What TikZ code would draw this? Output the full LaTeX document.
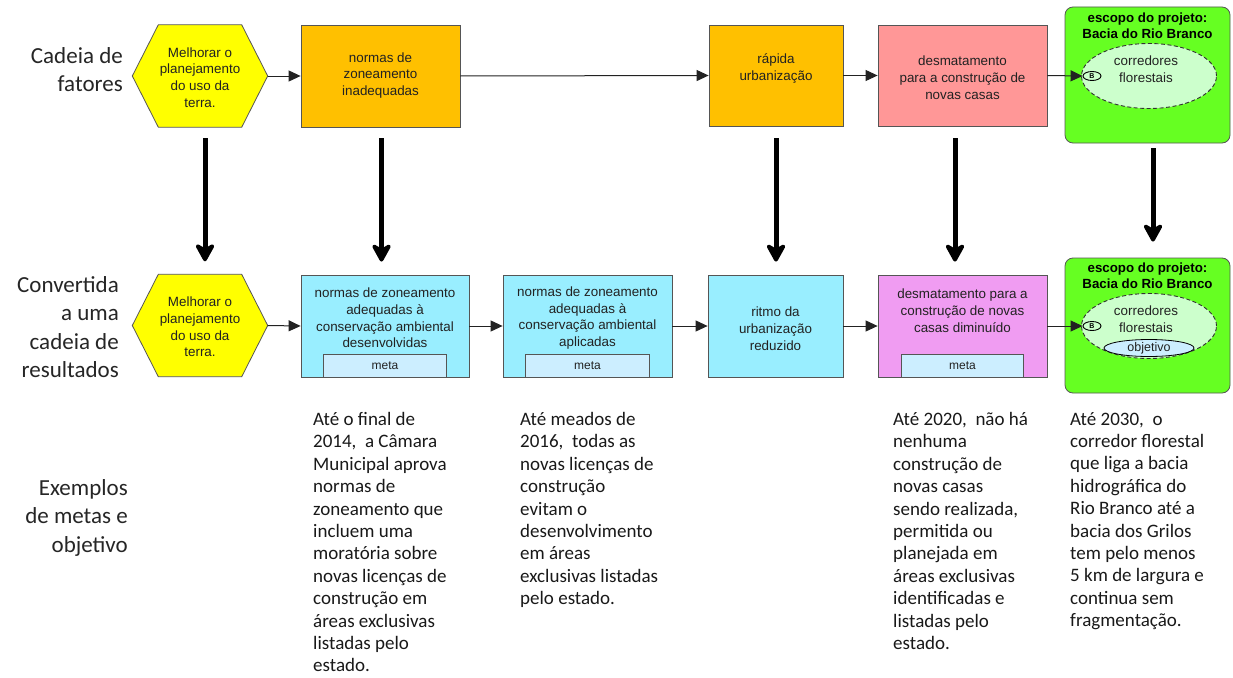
\documentclass[tikz,border=0pt]{standalone}
\usepackage{fontspec}
\setmainfont{Liberation Sans}
\newfontfamily\calib{Carlito}
\usetikzlibrary{shapes.geometric,arrows.meta,calc}
\definecolor{edgec}{HTML}{555555}
\definecolor{txtc}{HTML}{222222}
\definecolor{yel}{HTML}{FFFF00}
\definecolor{ora}{HTML}{FFC000}
\definecolor{pnk}{HTML}{FF9797}
\definecolor{grn}{HTML}{66FF22}
\definecolor{lgrn}{HTML}{CCFFCC}
\definecolor{cya}{HTML}{99EEFF}
\definecolor{mag}{HTML}{F09CF2}
\definecolor{lblu}{HTML}{CCEEFF}
\tikzset{
  fbox/.style={draw=edgec, line width=0.8pt, inner sep=0pt},
  btxt/.style={font=\fontsize{13.4}{16.8}\selectfont, align=center, text=txtc, inner sep=0pt},
  ttxt/.style={font=\bfseries\fontsize{13.3}{15.5}\selectfont, align=center, text=black, inner sep=0pt},
  hexnode/.style={minimum width=135pt, minimum height=102pt, inner sep=0pt},
  hexfill/.style={draw=edgec, line width=0.8pt, fill=yel},
  dell/.style={ellipse, draw=black!80, dashed, dash pattern=on 4pt off 2.5pt, line width=0.9pt, fill=lgrn, minimum width=135pt, minimum height=65pt, inner sep=0pt},
  bell/.style={ellipse, draw=black, line width=0.9pt, fill=lgrn, minimum width=18pt, minimum height=9pt, inner sep=0pt, font=\bfseries\fontsize{7}{7}\selectfont},
  metabox/.style={draw=edgec, line width=0.8pt, fill=lblu, minimum height=23pt, inner sep=0pt, anchor=south, font=\fontsize{12}{14}\selectfont, text=txtc},
  harrow/.style={draw=txtc, line width=1pt, -{Triangle[length=12pt,width=11pt]}},
  varrow/.style={draw=black, line width=5pt, -{Stealth[length=22pt,width=24pt,inset=7pt,round]}},
  rowlab/.style={font=\calib\fontsize{23}{28.5}\selectfont, align=right, anchor=north east, inner sep=0pt, text=black!85},
  coltxt/.style={font=\calib\fontsize{19}{22.4}\selectfont, align=left, anchor=north west, inner sep=0pt, text=black!90},
}
\begin{document}
\begin{tikzpicture}[x=1pt,y=-1pt]
\useasboundingbox (0,0) rectangle (1233,677);
\fill[white] (0,0) rectangle (1233,677);

% ---------------- row labels
\node[rowlab] (lab1) at (123,47) {Cadeia de\\fatores};
\node[rowlab] (lab2) at (119,276) {Convertida\\a uma\\cadeia de\\resultados};
\node[rowlab] (lab3) at (128,479) {Exemplos\\de metas e\\objetivo};

% ---------------- row 1
\node[hexnode] (h1) at (200,76) {};
\draw[hexfill] (h1.west) -- ([xshift=26pt]h1.north west) -- ([xshift=-26pt]h1.north east) -- (h1.east)
  -- ([xshift=-26pt]h1.south east) -- ([xshift=26pt]h1.south west) -- cycle;
\node[btxt] (h1t) at (200,77.5) {Melhorar o\\planejamento\\do uso da\\terra.};

\node[fbox, fill=ora, minimum width=159pt, minimum height=102pt] (n2) at (380.5,76) {};
\node[btxt] (n2t) at (380.5,75.5) {normas de\\zoneamento\\inadequadas};

\node[fbox, fill=ora, minimum width=134pt, minimum height=101pt] (u3) at (776,75.5) {};
\node[btxt] (u3t) at (776,68.5) {rápida\\urbanização};

\node[fbox, fill=pnk, minimum width=169pt, minimum height=101pt] (d4) at (962.5,75.5) {};
\node[btxt] (d4t) at (962.5,77.5) {desmatamento\\para a construção de\\novas casas};

\node[fbox, fill=grn, rounded corners=8pt, minimum width=165pt, minimum height=136pt] (g1) at (1147.5,75) {};
\node[ttxt] (g1t) at (1147.5,25.5) {escopo do projeto:\\Bacia do Rio Branco};
\node[dell] (e1) at (1149,76) {};
\node[btxt] (e1t) at (1146,69.5) {corredores\\florestais};
\node[bell] (b1) at (1092,76) {B};

\draw[harrow] (h1.east) -- (n2.west);
\draw[harrow] (n2.east) -- (u3.west);
\draw[harrow] (u3.east) -- (d4.west);
\draw[harrow] (d4.east) -- (b1.west);

% ---------------- row 2
\node[hexnode] (h2) at (200,325.5) {};
\draw[hexfill] (h2.west) -- ([xshift=26pt]h2.north west) -- ([xshift=-26pt]h2.north east) -- (h2.east)
  -- ([xshift=-26pt]h2.south east) -- ([xshift=26pt]h2.south west) -- cycle;
\node[btxt] (h2t) at (200,327) {Melhorar o\\planejamento\\do uso da\\terra.};

\node[fbox, fill=cya, minimum width=168pt, minimum height=102pt] (c1) at (385,326) {};
\node[btxt] (c1t) at (385,318) {normas de zoneamento\\adequadas à\\conservação ambiental\\desenvolvidas};
\node[metabox, minimum width=123pt] (m1) at (c1.south) {meta};

\node[fbox, fill=cya, minimum width=169pt, minimum height=102pt] (c2) at (587.5,326) {};
\node[btxt] (c2t) at (587.5,318) {normas de zoneamento\\adequadas à\\conservação ambiental\\aplicadas};
\node[metabox, minimum width=124pt] (m2) at (c2.south) {meta};

\node[fbox, fill=cya, minimum width=135pt, minimum height=102pt] (c3) at (775.5,326) {};
\node[btxt] (c3t) at (775.5,328.5) {ritmo da\\urbanização\\reduzido};

\node[fbox, fill=mag, minimum width=169pt, minimum height=102pt] (c4) at (962.5,326) {};
\node[btxt] (c4t) at (962.5,310.5) {desmatamento para a\\construção de novas\\casas diminuído};
\node[metabox, minimum width=122pt] (m4) at (c4.south) {meta};

\node[fbox, fill=grn, rounded corners=8pt, minimum width=165pt, minimum height=135pt] (g2) at (1147.5,325.5) {};
\node[ttxt] (g2t) at (1147.5,275.5) {escopo do projeto:\\Bacia do Rio Branco};
\node[dell] (e2) at (1149,326) {};
\node[btxt] (e2t) at (1146,319.5) {corredores\\florestais};
\node[ellipse, draw=black, line width=0.8pt, fill=lblu, minimum width=90pt, minimum height=17pt, inner sep=0pt, font=\fontsize{12.5}{14}\selectfont, text=txtc] (o2) at (1149,348) {objetivo};
\node[bell] (b2) at (1092,326) {B};

\draw[harrow] (h2.east) -- (c1.west);
\draw[harrow] (c1.east) -- (c2.west);
\draw[harrow] (c2.east) -- (c3.west);
\draw[harrow] (c3.east) -- (c4.west);
\draw[harrow] (c4.east) -- (b2.west);

% ---------------- vertical arrows
\draw[varrow, shorten <=11pt, shorten >=13pt] ([xshift=5pt]h1.south) -- ([xshift=5pt]h2.north);
\draw[varrow, shorten <=11pt, shorten >=13pt] ([xshift=1pt]n2.south) -- ([xshift=-3.5pt]c1.north);
\draw[varrow, shorten <=12pt, shorten >=13pt] (u3.south) -- ([xshift=0.5pt]c3.north);
\draw[varrow, shorten <=12pt, shorten >=13pt] ([xshift=-7.5pt]d4.south) -- ([xshift=-7.5pt]c4.north);
\draw[varrow, shorten <=5pt, shorten >=16pt] ([xshift=5.5pt]g1.south) -- ([xshift=5.5pt]g2.north);

% ---------------- example texts
\node[coltxt] (x1) at (313,412) {Até o final de\\2014,~ a Câmara\\Municipal aprova\\normas de\\zoneamento que\\incluem uma\\moratória sobre\\novas licenças de\\construção em\\áreas exclusivas\\listadas pelo\\estado.};
\node[coltxt] (x2) at (520,412) {Até meados de\\2016,~ todas as\\novas licenças de\\construção\\evitam o\\desenvolvimento\\em áreas\\exclusivas listadas\\pelo estado.};
\node[coltxt] (x3) at (893,412) {Até 2020,~ não há\\nenhuma\\construção de\\novas casas\\sendo realizada,\\permitida ou\\planejada em\\áreas exclusivas\\identificadas e\\listadas pelo\\estado.};
\node[coltxt] (x4) at (1070,412) {Até 2030,~ o\\corredor florestal\\que liga a bacia\\hidrográfica do\\Rio Branco até a\\bacia dos Grilos\\tem pelo menos\\5 km de largura e\\continua sem\\fragmentação.};
\end{tikzpicture}
\end{document}
